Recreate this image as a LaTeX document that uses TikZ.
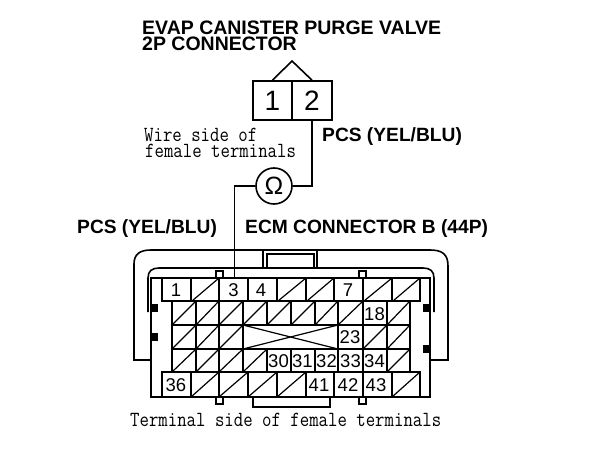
\documentclass[tikz,border=0pt]{standalone}
\usepackage{fontspec}
\setmainfont{Liberation Sans}
\usepackage{graphicx}
\usepackage{tikz}
\newcommand{\talltext}[1]{\scalebox{1}[1.18]{#1}}
\tikzset{
  shellline/.style={line width=1.6pt},
  cellline/.style={line width=1.3pt},
  hatchline/.style={line width=1.2pt},
  blackpad/.style={fill=black,draw=none},
  numlabel/.style={inner sep=0pt,font=\fontsize{18.5}{18.5}\selectfont},
  titlelabel/.style={anchor=west,inner sep=0pt,font=\fontsize{19.5}{19.5}\selectfont\bfseries},
  boldlabel/.style={anchor=west,inner sep=0pt,font=\fontsize{19.2}{19.2}\selectfont\bfseries},
  monolabel/.style={anchor=west,inner sep=0pt,font=\fontsize{18.3}{18.3}\selectfont\ttfamily},
  pinbox/.style={draw,line width=1.6pt,minimum width=39.5pt,minimum height=39pt,inner sep=0pt,font=\fontsize{28}{28}\selectfont},
}
\begin{document}
\begin{tikzpicture}[x=1pt,y=1pt,yscale=-1,xscale=1]
\useasboundingbox (0,0) rectangle (608,452);

% Text Node
\draw (142,27.5) node [titlelabel] (title) {EVAP CANISTER PURGE VALVE};
% Text Node
\draw (142,43.5) node [titlelabel] (subtitle) {2P CONNECTOR};
% Text Node
\draw (322,137) node [boldlabel] (pcsright) {PCS (YEL/BLU)};
% Text Node
\draw (77,229) node [boldlabel] (pcsleft) {PCS (YEL/BLU)};
% Text Node
\draw (245,229) node [boldlabel] (ecm) {ECM CONNECTOR B (44P)};
% Text Node
\draw (144,134.5) node [monolabel] (wireside) {\talltext{Wire side of}};
% Text Node
\draw (145,151) node [monolabel] (wireterm) {\talltext{female terminals}};
% Text Node
\draw (130,420) node [monolabel] (termside) {\talltext{Terminal side of female terminals}};

%Connector pins
\node [pinbox] (pin1) at (272.5,100.5) {1};
\node [pinbox] (pin2) at (312,100.5) {2};
\coordinate (apex) at (292,61);
\draw [shellline] (pin1.north) -- (apex) -- (pin2.north);

%Meter
\node [circle,draw,line width=1.6pt,minimum size=36pt,inner sep=0pt,font=\fontsize{25}{25}\selectfont] (ohm) at (274,186) {Ω};
\coordinate (pin3wire) at (234.5,278);
\draw [shellline] (ohm.east) -| (pin2.south);
\draw [shellline] (ohm.west) -| (pin3wire);

%Outer shell
\draw [shellline] (151,360) -- (134,360) -- (134,264) .. controls (134,254) and (140,250) .. (151,250) -- (430,250) .. controls (442,250) and (448,254) .. (448,266) -- (448,360) -- (430,360);
%Inner shell
\draw [shellline] (148,312) -- (148,278) .. controls (148,271) and (152,268) .. (159,268) -- (423,268) .. controls (430,268) and (434,271) .. (434,278) -- (434,312);
%Top tab
\draw [shellline] (263,250) -- (263,268);
\draw [shellline] (317,250) -- (317,268);
\draw [cellline] (267,267) -- (267,254) -- (314,254) -- (314,267);
%Bottom tab
\draw [shellline] (253,397) -- (253,407) -- (330,407) -- (330,397);
%Housing
\draw [shellline] (151,278) rectangle (430,397);
%Small squares
\draw [cellline] (216,271) rectangle (223,278);
\draw [cellline] (359,271) rectangle (366,278);
\draw [cellline] (216,397) rectangle (223,404);
\draw [cellline] (359,397) rectangle (366,404);
%Black pads
\path [blackpad] (151,304) rectangle (158,312);
\path [blackpad] (151,333) rectangle (158,341);
\path [blackpad] (423,304) rectangle (430,312);
\path [blackpad] (423,345) rectangle (430,353);

%Top row
\draw [cellline] (162,278) rectangle (420,301);
\draw [cellline] (191,278) -- (191,301);
\draw [cellline] (219,278) -- (219,301);
\draw [cellline] (248,278) -- (248,301);
\draw [cellline] (277,278) -- (277,301);
\draw [cellline] (306,278) -- (306,301);
\draw [cellline] (334,278) -- (334,301);
\draw [cellline] (363,278) -- (363,301);
\draw [cellline] (392,278) -- (392,301);
\draw [hatchline] (192,301) -- (219,278);
\draw [hatchline] (278,301) -- (306,278);
\draw [hatchline] (307,301) -- (334,278);
\draw [hatchline] (364,301) -- (392,278);
\draw [hatchline] (393,301) -- (420,278);

%Bottom row
\draw [cellline] (162,372) rectangle (420,397);
\draw [cellline] (191,372) -- (191,397);
\draw [cellline] (219,372) -- (219,397);
\draw [cellline] (248,372) -- (248,397);
\draw [cellline] (277,372) -- (277,397);
\draw [cellline] (306,372) -- (306,397);
\draw [cellline] (334,372) -- (334,397);
\draw [cellline] (363,372) -- (363,397);
\draw [cellline] (392,372) -- (392,397);
\draw [hatchline] (191,397) -- (219,372);
\draw [hatchline] (219,397) -- (248,372);
\draw [hatchline] (248,397) -- (277,372);
\draw [hatchline] (277,397) -- (306,372);
\draw [hatchline] (392,397) -- (420,372);

%Middle block
\draw [cellline] (172,301) rectangle (410,372);
\draw [cellline] (172,325) -- (410,325);
\draw [cellline] (172,349) -- (410,349);
\draw [cellline] (196,301) -- (196,372);
\draw [cellline] (219,301) -- (219,372);
\draw [cellline] (243,301) -- (243,372);
\draw [cellline] (267,301) -- (267,325);
\draw [cellline] (267,349) -- (267,372);
\draw [cellline] (291,301) -- (291,325);
\draw [cellline] (291,349) -- (291,372);
\draw [cellline] (315,301) -- (315,325);
\draw [cellline] (315,349) -- (315,372);
\draw [cellline] (338,301) -- (338,372);
\draw [cellline] (363,301) -- (363,372);
\draw [cellline] (387,301) -- (387,372);
%First middle row
\draw [hatchline] (172,325) -- (196,301);
\draw [hatchline] (196,325) -- (219,301);
\draw [hatchline] (219,325) -- (243,301);
\draw [hatchline] (243,325) -- (267,301);
\draw [hatchline] (267,325) -- (291,301);
\draw [hatchline] (291,325) -- (315,301);
\draw [hatchline] (315,325) -- (338,301);
\draw [hatchline] (338,325) -- (363,301);
\draw [hatchline] (387,325) -- (410,301);
%Second middle row
\draw [hatchline] (172,349) -- (196,325);
\draw [hatchline] (196,349) -- (219,325);
\draw [hatchline] (219,349) -- (243,325);
\draw [hatchline] (363,349) -- (387,325);
\draw [hatchline] (387,349) -- (410,325);
%Cross
\draw [hatchline] (243,325) -- (338,349);
\draw [hatchline] (243,349) -- (338,325);
%Third middle row
\draw [hatchline] (172,372) -- (196,349);
\draw [hatchline] (196,372) -- (219,349);
\draw [hatchline] (219,372) -- (243,349);
\draw [hatchline] (243,372) -- (267,349);
\draw [hatchline] (387,372) -- (410,349);

% Text Node
\draw (176,290) node [numlabel] (t1) {1};
% Text Node
\draw (233.5,290) node [numlabel] (t3) {3};
% Text Node
\draw (261,290) node [numlabel] (t4) {4};
% Text Node
\draw (348,290) node [numlabel] (t7) {7};
% Text Node
\draw (374.5,314) node [numlabel] (t18) {18};
% Text Node
\draw (350,337) node [numlabel] (t23) {23};
% Text Node
\draw (278.5,361.5) node [numlabel] (t30) {30};
% Text Node
\draw (302.5,361.5) node [numlabel] (t31) {31};
% Text Node
\draw (326.5,361.5) node [numlabel] (t32) {32};
% Text Node
\draw (350.5,361.5) node [numlabel] (t33) {33};
% Text Node
\draw (374.5,361.5) node [numlabel] (t34) {34};
% Text Node
\draw (176,385) node [numlabel] (t36) {36};
% Text Node
\draw (319,385) node [numlabel] (t41) {41};
% Text Node
\draw (348,385) node [numlabel] (t42) {42};
% Text Node
\draw (376,385) node [numlabel] (t43) {43};

\end{tikzpicture}
\end{document}
